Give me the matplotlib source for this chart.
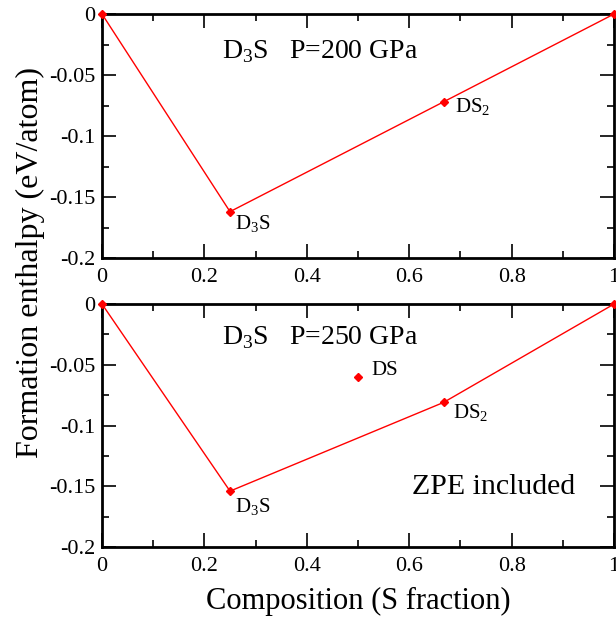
import matplotlib
matplotlib.use("Agg")
import matplotlib.pyplot as plt
from matplotlib.ticker import MultipleLocator

plt.rcParams['font.family'] = ['Liberation Serif', 'DejaVu Serif']
plt.rcParams['mathtext.fontset'] = 'custom'
plt.rcParams['mathtext.rm'] = 'Liberation Serif'

# hull points
x_hull = [0, 0.25, 0.667, 1]
y_200 = [0, -0.162, -0.072, 0]
y_250 = [0, -0.154, -0.081, 0]
# off-hull point at 250 GPa
x_ds = [0.5]
y_ds = [-0.060]

xticks = [0, 0.2, 0.4, 0.6, 0.8, 1]
yticks = [0, -0.05, -0.1, -0.15, -0.2]
ytick_labels = ["0", "-0.05", "-0.1", "-0.15", "-0.2"]

fig = plt.figure(figsize=(6.16, 6.18), dpi=100)
ax1 = fig.add_axes([0.1656, 0.5825, 0.8312, 0.3948])
ax2 = fig.add_axes([0.1656, 0.1149, 0.8312, 0.3931])

for ax in (ax1, ax2):
    ax.set_xlim(0, 1)
    ax.set_ylim(-0.2, 0)
    ax.set_xticks(xticks)
    ax.set_xticklabels(["0", "0.2", "0.4", "0.6", "0.8", "1"])
    ax.set_yticks(yticks)
    ax.set_yticklabels(ytick_labels)
    ax.xaxis.set_minor_locator(MultipleLocator(0.1))
    ax.yaxis.set_minor_locator(MultipleLocator(0.025))
    ax.tick_params(which='both', direction='in', top=True, right=True, labelsize=16)
    ax.tick_params(which='major', length=10, width=1.2)
    ax.tick_params(which='minor', length=5, width=1.2)
    ax.tick_params(axis='x', pad=7)
    ax.tick_params(axis='y', pad=5)
    for s in ax.spines.values():
        s.set_linewidth(2)

ax1.plot(x_hull, y_200, color='red', lw=1, marker='D', ms=4.5, clip_on=False, zorder=5)
ax2.plot(x_hull, y_250, color='red', lw=1, marker='D', ms=4.5, clip_on=False, zorder=5)
ax2.plot(x_ds, y_ds, ls='none', color='red', marker='D', ms=4.5, zorder=5)

ax1.text(0.235, -0.031, r"D$_3$S   P=200 GPa", fontsize=20, va='center')
ax2.text(0.235, -0.028, r"D$_3$S   P=250 GPa", fontsize=20, va='center')
ax2.text(0.605, -0.151, "ZPE included", fontsize=21.5, va='center')

ax1.text(0.26, -0.172, r"D$_3$S", fontsize=15, va='center')
ax1.text(0.689, -0.076, r"DS$_2$", fontsize=15, va='center')
ax2.text(0.26, -0.167, r"D$_3$S", fontsize=15, va='center')
ax2.text(0.527, -0.055, "DS", fontsize=15, va='center')
ax2.text(0.686, -0.090, r"DS$_2$", fontsize=15, va='center')

fig.text(0.049, 0.576, "Formation enthalpy (eV/atom)", rotation=90,
         fontsize=23, va='center', ha='center')
ax2.set_xlabel("Composition (S fraction)", fontsize=22, labelpad=8)

fig.savefig("out.png", dpi=100)
